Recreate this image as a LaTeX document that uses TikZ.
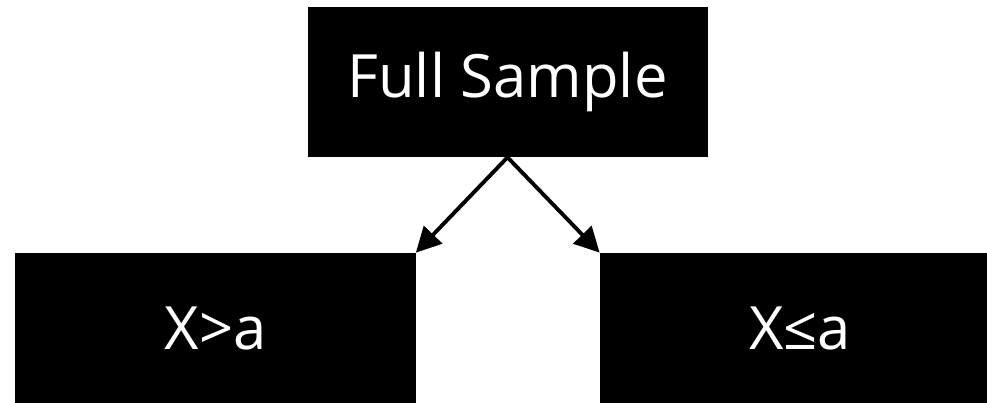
\documentclass[tikz,border=0pt]{standalone}
\usepackage{fontspec}
\setmainfont{Open Sans}
\usetikzlibrary{arrows.meta, positioning}
\newcommand{\boxwidth}{8cm}
\newcommand{\boxheight}{3cm}
\tikzstyle{group} = [% a sample or a part of it
  rectangle,
  minimum width=\boxwidth,
  minimum height=\boxheight,
  inner sep=0pt,
  text centered,
  fill=black,
  text=white,
  font=\fontsize{34}{40}\selectfont
  ]
\tikzstyle{split} = [% arrow format
  line width=2.2pt,
  -{Triangle[length=0.5cm,width=0.5cm]}
  ]

\begin{document}
\begin{tikzpicture}

\useasboundingbox (0,0) rectangle (19.74,8.06);

%%% Nodes
\node[group] (full) at (10.15,6.42) {Full Sample};
\node[group] (above) at (4.31,1.5) {X>a};
\node[group] (below) at (16,1.5) {X≤a};

%%%
\draw[split] (full.south) -- (above.north east);
\draw[split] (full.south) -- (below.north west);

\end{tikzpicture}
\end{document}
